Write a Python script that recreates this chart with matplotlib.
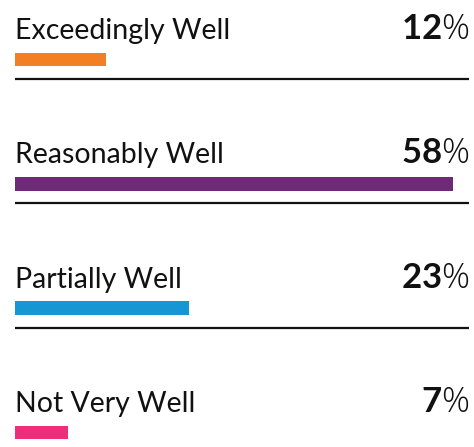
import matplotlib
matplotlib.use("Agg")
import matplotlib.pyplot as plt

categories = ["Exceedingly Well", "Reasonably Well", "Partially Well", "Not Very Well"]
values = [12, 58, 23, 7]
colors = ["#F37F25", "#6E2A78", "#1697D3", "#EC2E7B"]

plt.rcParams['font.family'] = ['Lato', 'DejaVu Sans']
plt.rcParams['mathtext.fontset'] = 'custom'
plt.rcParams['mathtext.rm'] = 'Open Sans:light'
plt.rcParams['mathtext.bf'] = 'Lato:bold'

W, H = 474, 447
fig = plt.figure(figsize=(W / 100, H / 100), dpi=100)
ax = fig.add_axes([15 / W, 0, (469 - 15) / W, 1])
ax.set_xlim(0, 454 / 7.55)
row_px = 124.3
top_px = 59.5
ax.set_ylim((H - top_px) / row_px, -top_px / row_px)
ax.axis('off')

ys = list(range(len(categories)))
ax.barh(ys, values, height=13.5 / row_px, color=colors, left=0)

for i, (cat, v) in enumerate(zip(categories, values)):
    ax.text(0, i - 20.5 / row_px, cat, ha='left', va='baseline',
            fontsize=20.5, color='#111111', fontweight='normal')
    ax.text(1.0, i - 20.5 / row_px, r'$\mathbf{' + str(v) + r'}\mathrm{\%}$',
            transform=ax.get_yaxis_transform(), ha='right', va='baseline',
            fontsize=25, color='#111111')
    if i < len(categories) - 1:
        ax.axhline(i + 19.5 / row_px, xmin=0, xmax=1, color='#111111', lw=1.6)

fig.savefig("out.png", dpi=100)
